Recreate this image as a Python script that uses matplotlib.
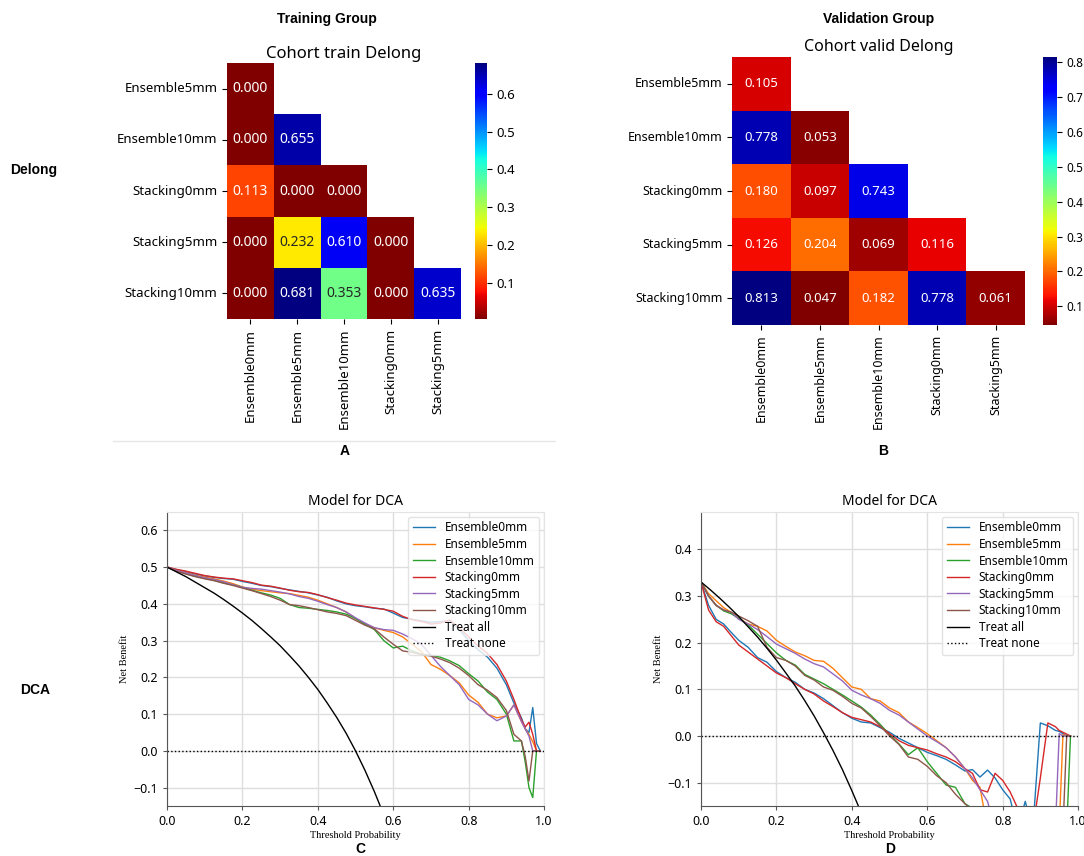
import numpy as np
import matplotlib
matplotlib.use("Agg")
import matplotlib.pyplot as plt
import seaborn as sns
from matplotlib.lines import Line2D

plt.rcParams['font.family'] = ['Noto Sans', 'DejaVu Sans']

# ---- Delong heatmaps ----
rows = ["Ensemble5mm", "Ensemble10mm", "Stacking0mm", "Stacking5mm", "Stacking10mm"]
cols = ["Ensemble0mm", "Ensemble5mm", "Ensemble10mm", "Stacking0mm", "Stacking5mm"]
nan = np.nan
train_p = [[0.000, nan, nan, nan, nan],
           [0.000, 0.655, nan, nan, nan],
           [0.113, 0.000, 0.000, nan, nan],
           [0.000, 0.232, 0.610, 0.000, nan],
           [0.000, 0.681, 0.353, 0.000, 0.635]]
valid_p = [[0.105, nan, nan, nan, nan],
           [0.778, 0.053, nan, nan, nan],
           [0.180, 0.097, 0.743, nan, nan],
           [0.126, 0.204, 0.069, 0.116, nan],
           [0.813, 0.047, 0.182, 0.778, 0.061]]

# ---- DCA curves ----
names = ["Ensemble0mm", "Ensemble5mm", "Ensemble10mm", "Stacking0mm", "Stacking5mm", "Stacking10mm"]
colors = ["#1f77b4", "#ff7f0e", "#2ca02c", "#d62728", "#9467bd", "#8c564b"]

thr_c = [0, .025, .05, .075, .1, .125, .15, .175, .2, .225, .25, .275, .3, .325, .35, .375, .4, .425,
         .45, .475, .5, .525, .55, .575, .6, .625, .65, .675, .7, .725, .75, .775, .8, .825, .85, .875,
         .9, .92, .94, .95, .96, .97, .98, .99]
c_ens0 = [0.5, 0.493, 0.488, 0.481, 0.476, 0.472, 0.469, 0.467, 0.461, 0.456, 0.450, 0.447, 0.442, 0.438,
          0.434, 0.430, 0.424, 0.418, 0.408, 0.400, 0.395, 0.392, 0.388, 0.386, 0.375, 0.363, 0.358, 0.354,
          0.350, 0.352, 0.354, 0.330, 0.300, 0.275, 0.255, 0.225, 0.18, 0.13, 0.09, 0.06, 0.05, 0.118, 0.02, 0.0]
c_ens5 = [0.5, 0.492, 0.485, 0.478, 0.473, 0.468, 0.462, 0.455, 0.446, 0.44, 0.436, 0.433, 0.43, 0.428,
          0.423, 0.418, 0.41, 0.40, 0.39, 0.378, 0.36, 0.345, 0.335, 0.328, 0.322, 0.31, 0.29, 0.27, 0.235,
          0.222, 0.205, 0.185, 0.152, 0.132, 0.1, 0.09, 0.095, 0.125, 0.08, 0.06, 0.045, 0.025, 0.0, 0.0]
c_ens10 = [0.5, 0.49, 0.482, 0.475, 0.47, 0.464, 0.457, 0.452, 0.445, 0.437, 0.43, 0.424, 0.415, 0.398,
           0.39, 0.388, 0.385, 0.382, 0.378, 0.372, 0.36, 0.345, 0.33, 0.3, 0.28, 0.285, 0.272, 0.263, 0.26,
           0.255, 0.245, 0.232, 0.21, 0.19, 0.16, 0.14, 0.1, 0.027, 0.027, -0.03, -0.1, -0.127, 0.0, 0.0]
c_stk0 = [0.5, 0.494, 0.489, 0.483, 0.477, 0.473, 0.470, 0.468, 0.463, 0.458, 0.451, 0.448, 0.443, 0.437,
          0.433, 0.431, 0.425, 0.417, 0.410, 0.402, 0.397, 0.393, 0.389, 0.385, 0.380, 0.366, 0.357, 0.352,
          0.345, 0.348, 0.356, 0.335, 0.31, 0.285, 0.265, 0.235, 0.19, 0.14, 0.085, 0.065, 0.078, 0.045, 0.0, 0.0]
c_stk5 = [0.5, 0.491, 0.484, 0.477, 0.471, 0.466, 0.46, 0.452, 0.445, 0.442, 0.44, 0.436, 0.432, 0.427,
          0.42, 0.415, 0.407, 0.398, 0.39, 0.378, 0.362, 0.348, 0.335, 0.33, 0.328, 0.318, 0.305, 0.29, 0.26,
          0.23, 0.205, 0.18, 0.14, 0.125, 0.1, 0.082, 0.095, 0.125, 0.08, 0.06, 0.04, 0.0, 0.0, 0.0]
c_stk10 = [0.5, 0.489, 0.481, 0.474, 0.468, 0.463, 0.456, 0.45, 0.443, 0.436, 0.428, 0.42, 0.41, 0.398,
           0.395, 0.39, 0.384, 0.378, 0.374, 0.368, 0.355, 0.342, 0.332, 0.31, 0.29, 0.272, 0.268, 0.262,
           0.258, 0.25, 0.24, 0.225, 0.205, 0.18, 0.165, 0.145, 0.11, 0.045, 0.027, -0.015, -0.082, 0.0, 0.0, 0.0]
c_all_t = [0, .025, .05, .075, .1, .125, .15, .175, .2, .225, .25, .275, .3, .325, .35, .375, .4, .425,
           .45, .475, .5, .525, .55, .565]
c_all = [0.5, 0.487, 0.474, 0.459, 0.444, 0.429, 0.412, 0.394, 0.375, 0.355, 0.333, 0.310, 0.286, 0.259,
         0.231, 0.2, 0.167, 0.130, 0.091, 0.048, 0.0, -0.053, -0.111, -0.149]

thr_d = [0, .02, .04, .06, .08, .10, .125, .15, .175, .20, .225, .25, .275, .30, .325, .35, .375, .40,
         .425, .45, .475, .50, .525, .55, .575, .60, .625, .65, .675, .70, .72, .74, .76, .78, .80, .82,
         .84, .86, .88, .90, .92, .94, .95, .96, .97, .98]
d_ens0 = [0.33, 0.28, 0.25, 0.24, 0.222, 0.205, 0.19, 0.168, 0.158, 0.138, 0.125, 0.115, 0.10, 0.092, 0.08,
          0.065, 0.05, 0.038, 0.03, 0.028, 0.018, 0.008, -0.005, -0.015, -0.025, -0.035, -0.042, -0.05,
          -0.062, -0.075, -0.072, -0.088, -0.073, -0.09, -0.115, -0.135, -0.2, -0.14, -0.2, 0.028, 0.022,
          0.012, 0.01, 0.005, 0.0, 0.0]
d_ens5 = [0.33, 0.305, 0.29, 0.275, 0.265, 0.252, 0.24, 0.235, 0.225, 0.205, 0.192, 0.18, 0.172, 0.162,
          0.16, 0.145, 0.125, 0.105, 0.10, 0.08, 0.075, 0.06, 0.05, 0.03, 0.018, 0.005, -0.01, -0.025,
          -0.045, -0.07, -0.095, -0.11, -0.2, -0.2, -0.2, -0.2, -0.2, -0.2, -0.2, -0.2, -0.2, -0.2, -0.2,
          0.003, 0.0, 0.0]
d_ens10 = [0.33, 0.30, 0.28, 0.268, 0.262, 0.252, 0.238, 0.218, 0.198, 0.178, 0.162, 0.152, 0.132, 0.122,
           0.112, 0.1, 0.088, 0.075, 0.062, 0.045, 0.025, 0.003, -0.017, -0.04, -0.025, -0.055, -0.08,
           -0.105, -0.11, -0.145, -0.155, -0.2, -0.2, -0.2, -0.2, -0.2, -0.2, -0.2, -0.2, -0.2, -0.2, -0.2,
           -0.2, -0.2, -0.2, 0.0]
d_stk0 = [0.33, 0.27, 0.245, 0.235, 0.215, 0.195, 0.18, 0.165, 0.15, 0.135, 0.125, 0.112, 0.10, 0.09, 0.075,
          0.063, 0.05, 0.04, 0.035, 0.03, 0.02, 0.005, -0.01, -0.02, -0.025, -0.03, -0.038, -0.045, -0.055,
          -0.07, -0.08, -0.115, -0.12, -0.08, -0.095, -0.12, -0.155, -0.2, -0.2, -0.09, 0.028, 0.02, 0.012,
          0.008, 0.004, 0.0]
d_stk5 = [0.33, 0.3, 0.28, 0.27, 0.265, 0.25, 0.24, 0.228, 0.213, 0.197, 0.187, 0.177, 0.165, 0.155, 0.148,
          0.133, 0.118, 0.098, 0.088, 0.08, 0.07, 0.055, 0.045, 0.03, 0.015, 0.0, -0.012, -0.025, -0.045,
          -0.07, -0.09, -0.115, -0.14, -0.2, -0.2, -0.2, -0.2, -0.2, -0.2, -0.2, -0.2, -0.2, 0.005, 0.0,
          0.0, 0.0]
d_stk10 = [0.33, 0.30, 0.28, 0.27, 0.265, 0.257, 0.247, 0.235, 0.19, 0.168, 0.162, 0.15, 0.13, 0.12, 0.105,
           0.098, 0.085, 0.07, 0.06, 0.042, 0.022, 0.0, -0.018, -0.045, -0.05, -0.065, -0.085, -0.1, -0.125,
           -0.145, -0.16, -0.2, -0.2, -0.2, -0.2, -0.2, -0.2, -0.2, -0.2, -0.2, -0.2, -0.2, -0.2, -0.2,
           0.002, 0.0]
d_all_t = [0, .025, .05, .075, .1, .125, .15, .175, .2, .225, .25, .275, .3, .325, .35, .375, .4, .42]
d_all = [0.33, 0.313, 0.295, 0.276, 0.256, 0.234, 0.212, 0.188, 0.1625, 0.135, 0.107, 0.076, 0.043, 0.007,
         -0.031, -0.072, -0.117, -0.155]

fig = plt.figure(figsize=(10.84, 8.56), dpi=100)


def heat(pos, cpos, data, vmin, vmax, title, fs_tick, fs_cb, fs_ann, fs_title):
    ax = fig.add_axes(pos)
    cax = fig.add_axes(cpos)
    mat = np.array(data, dtype=float)
    sns.heatmap(mat, mask=np.isnan(mat), cmap="jet_r", vmin=vmin, vmax=vmax, annot=True, fmt=".3f",
                annot_kws={"size": fs_ann}, xticklabels=cols, yticklabels=rows, ax=ax, cbar_ax=cax)
    ax.set_title(title, fontsize=fs_title, pad=4)
    ax.tick_params(axis="x", labelsize=fs_tick, rotation=90)
    ax.tick_params(axis="y", labelsize=fs_tick, rotation=0)
    cax.tick_params(labelsize=fs_cb)
    return ax


heat([0.2094, 0.6273, 0.2159, 0.299], [0.4382, 0.6273, 0.0111, 0.299], train_p, 0.004, 0.681,
     "Cohort train Delong", 9.5, 9.5, 10, 12)
heat([0.6753, 0.6203, 0.2703, 0.3131], [0.9622, 0.6203, 0.0129, 0.3131], valid_p, 0.047, 0.813,
     "Cohort valid Delong", 9, 8.5, 9.5, 11.5)


def dca(pos, thr, curves, all_t, all_v, ylim, yticks):
    ax = fig.add_axes(pos)
    for name, vals, col in zip(names, curves, colors):
        ax.plot(thr, vals, color=col, lw=1, label=name)
    ax.plot(all_t, all_v, color="black", lw=1, label="Treat all")
    ax.plot([0, 1], [0, 0], color="black", lw=1, ls=":", label="Treat none")
    ax.set_xlim(0, 1)
    ax.set_ylim(*ylim)
    ax.set_yticks(yticks)
    ax.set_xticks([0, 0.2, 0.4, 0.6, 0.8, 1.0])
    ax.grid(True, color="#dedede", lw=1)
    ax.set_axisbelow(True)
    for s in ["top", "right"]:
        ax.spines[s].set_color("#e3e3e3")
    for s in ["left", "bottom"]:
        ax.spines[s].set_color("#555555")
    ax.tick_params(labelsize=9, length=3, color="#555555")
    ax.set_title("Model for DCA", fontsize=10, pad=5)
    ax.set_xlabel("Threshold Probability", family="Liberation Serif", fontsize=7.5, labelpad=2)
    ax.set_ylabel("Net Benefit", family="Liberation Serif", fontsize=7.5, labelpad=3)
    ax.legend(loc="upper right", fontsize=8.5, edgecolor="#dddddd", framealpha=0.8, handlelength=1.9,
              borderaxespad=0.4, labelspacing=0.3)
    return ax


dca([0.1541, 0.0584, 0.3478, 0.3435], thr_c, [c_ens0, c_ens5, c_ens10, c_stk0, c_stk5, c_stk10],
    c_all_t, c_all, (-0.15, 0.65), [-0.1, 0.0, 0.1, 0.2, 0.3, 0.4, 0.5, 0.6])
dca([0.6467, 0.0584, 0.3478, 0.3435], thr_d, [d_ens0, d_ens5, d_ens10, d_stk0, d_stk5, d_stk10],
    d_all_t, d_all, (-0.15, 0.48), [-0.1, 0.0, 0.1, 0.2, 0.3, 0.4])

# panel labels
bold = dict(family="Liberation Sans", fontweight="bold", fontsize=10, ha="center", va="center")
fig.text(327 / 1084, 1 - 19 / 856, "Training Group", **bold)
fig.text(879 / 1084, 1 - 19 / 856, "Validation Group", **bold)
fig.text(34 / 1084, 1 - 170 / 856, "Delong", **bold)
fig.text(35 / 1084, 1 - 690 / 856, "DCA", **bold)
fig.text(345 / 1084, 1 - 451 / 856, "A", **bold)
fig.text(883 / 1084, 1 - 451 / 856, "B", **bold)
fig.text(360 / 1084, 1 - 849 / 856, "C", **bold)
fig.text(890 / 1084, 1 - 849 / 856, "D", **bold)
fig.add_artist(Line2D([113 / 1084, 555 / 1084], [1 - 441 / 856, 1 - 441 / 856], color="#e6e6e6", lw=1))

fig.savefig("out.png", dpi=100)
